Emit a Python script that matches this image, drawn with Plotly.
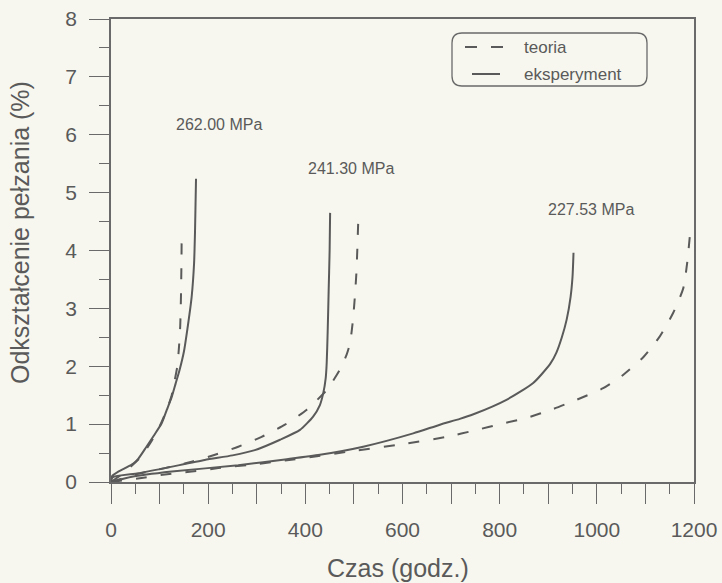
import plotly.graph_objects as go

# ---------------- data ----------------
t_262_exp = [0, 2, 15, 29, 46, 56, 73, 88, 104, 115, 125, 133, 141, 150, 157, 166, 171, 173, 175]
e_262_exp = [0.0, 0.10, 0.18, 0.24, 0.32, 0.40, 0.61, 0.80, 1.01, 1.25, 1.47, 1.70, 1.93, 2.25, 2.63, 3.20, 3.78, 4.35, 5.24]

t_262_teo = [0, 20, 40, 60, 80, 100, 115, 125, 131, 136.5, 140, 142.5, 144, 145, 145.5]
e_262_teo = [0.0, 0.12, 0.26, 0.42, 0.66, 0.96, 1.25, 1.5, 1.75, 2.0, 2.34, 2.7, 3.2, 3.8, 4.28]

t_241_exp = [0, 3, 56, 111, 193, 250, 296, 348, 389, 416, 430, 437, 442, 444, 446, 448, 450, 451]
e_241_exp = [0.0, 0.08, 0.15, 0.24, 0.38, 0.46, 0.55, 0.73, 0.90, 1.13, 1.33, 1.54, 1.80, 2.06, 2.6, 3.3, 4.0, 4.65]

t_241_teo = [0, 56, 111, 166, 214, 262, 310, 358, 403, 444, 471, 485, 492, 498, 502, 505, 507, 509]
e_241_teo = [0.0, 0.14, 0.24, 0.35, 0.47, 0.61, 0.78, 0.99, 1.25, 1.59, 1.94, 2.2, 2.40, 2.8, 3.21, 3.6, 4.02, 4.54]

t_227_exp = [0, 43, 125, 262, 358, 430, 519, 622, 677, 718, 746, 814, 869, 904, 917, 928, 938, 946, 950, 952]
e_227_exp = [0.0, 0.09, 0.18, 0.29, 0.39, 0.47, 0.61, 0.84, 0.99, 1.09, 1.17, 1.42, 1.71, 2.04, 2.24, 2.50, 2.81, 3.20, 3.55, 3.96]

t_227_teo = [0, 63, 111, 166, 221, 300, 358, 420, 485, 588, 691, 753, 801, 856, 910, 958, 1013, 1054, 1096, 1130, 1157, 1178, 1186, 1192]
e_227_teo = [0.0, 0.07, 0.13, 0.18, 0.24, 0.31, 0.37, 0.44, 0.52, 0.64, 0.78, 0.90, 1.0, 1.11, 1.26, 1.42, 1.62, 1.85, 2.16, 2.52, 2.92, 3.35, 3.79, 4.30]

stress_labels = ["262.00 MPa", "241.30 MPa", "227.53 MPa"]
label_t = [222, 494, 988]
label_e = [6.18, 5.42, 4.70]

x_ticks = list(range(0, 1201, 100))
x_ticktext = [str(v) if v % 200 == 0 else "" for v in x_ticks]
legend_names = ["teoria", "eksperyment"]

# ---------------- style ----------------
W, H = 722, 583
L, R, T, B = 111, 28, 19, 101
PW, PH = W - L - R, H - T - B
BG = "#f7f7ef"
INK = "#5a5a5a"
AX = "#6a6a6a"
FONT = "Liberation Sans, Arial, sans-serif"
DASH = "11px,14px"

def px(xp):
    return (xp - L) / PW

def py(yp):
    return (H - B - yp) / PH

fig = go.Figure()

series = [
    (t_262_teo, e_262_teo, "teo"), (t_262_exp, e_262_exp, "exp"),
    (t_241_teo, e_241_teo, "teo"), (t_241_exp, e_241_exp, "exp"),
    (t_227_teo, e_227_teo, "teo"), (t_227_exp, e_227_exp, "exp"),
]
for xs, ys, kind in series:
    fig.add_trace(go.Scatter(
        x=xs, y=ys, mode="lines",
        name=legend_names[0] if kind == "teo" else legend_names[1],
        line=dict(color=INK, width=2, dash=DASH if kind == "teo" else "solid",
                  shape="spline", smoothing=0.6),
        showlegend=False, hoverinfo="skip",
    ))

for txt, xv, yv in zip(stress_labels, label_t, label_e):
    fig.add_annotation(x=xv, y=yv, text=txt, showarrow=False,
                       font=dict(family=FONT, size=16, color=INK),
                       xanchor="center", yanchor="middle")

# axis titles
fig.add_annotation(xref="paper", yref="paper", x=px(398), y=py(568),
                   text="Czas (godz.)", showarrow=False,
                   font=dict(family=FONT, size=25, color=INK),
                   xanchor="center", yanchor="middle")
fig.add_annotation(xref="paper", yref="paper", x=px(20), y=py(233),
                   text="Odkształcenie pełzania (%)", showarrow=False, textangle=-90,
                   font=dict(family=FONT, size=25, color=INK),
                   xanchor="center", yanchor="middle")

# legend (rounded box)
bx0, bx1, by0, by1, rad = 452, 647, 33, 86, 10
rx, ry = rad / PW, rad / PH
X0, X1, Y0, Y1 = px(bx0), px(bx1), py(by1), py(by0)
path = (f"M {X0+rx},{Y1} L {X1-rx},{Y1} Q {X1},{Y1} {X1},{Y1-ry} "
        f"L {X1},{Y0+ry} Q {X1},{Y0} {X1-rx},{Y0} L {X0+rx},{Y0} "
        f"Q {X0},{Y0} {X0},{Y0+ry} L {X0},{Y1-ry} Q {X0},{Y1} {X0+rx},{Y1} Z")
fig.add_shape(type="path", xref="paper", yref="paper", path=path,
              line=dict(color=AX, width=1.3), fillcolor="rgba(0,0,0,0)")
fig.add_shape(type="line", xref="paper", yref="paper",
              x0=px(465), x1=px(503), y0=py(47), y1=py(47),
              line=dict(color=INK, width=2, dash="12px,14px"))
fig.add_shape(type="line", xref="paper", yref="paper",
              x0=px(472), x1=px(500), y0=py(74), y1=py(74),
              line=dict(color=INK, width=2))
for name, yy in zip(legend_names, [47, 74]):
    fig.add_annotation(xref="paper", yref="paper", x=px(522), y=py(yy),
                       text=name, showarrow=False, xanchor="left", yanchor="middle",
                       font=dict(family=FONT, size=17, color=INK))

axis_common = dict(
    showline=True, linecolor=AX, linewidth=1.5, mirror=True,
    ticks="outside", ticklen=20, tickwidth=1.3, tickcolor=AX,
    showgrid=False, zeroline=False, automargin=False,
    tickfont=dict(family=FONT, size=21, color=INK),
    ticklabelstandoff=8,
)
fig.update_xaxes(range=[0, 1200], tickmode="array", tickvals=x_ticks, ticktext=x_ticktext,
                 minor=dict(dtick=50, ticks="outside", ticklen=10, tickcolor=AX, tickwidth=1.3),
                 **axis_common)
fig.update_yaxes(range=[0, 8], dtick=1, tick0=0,
                 minor=dict(dtick=0.5, ticks="outside", ticklen=10, tickcolor=AX, tickwidth=1.3),
                 **axis_common)

fig.update_layout(
    width=W, height=H,
    margin=dict(l=L, r=R, t=T, b=B, autoexpand=False),
    paper_bgcolor=BG, plot_bgcolor=BG,
    showlegend=False,
    font=dict(family=FONT, color=INK),
)

fig.write_html("out.html")
